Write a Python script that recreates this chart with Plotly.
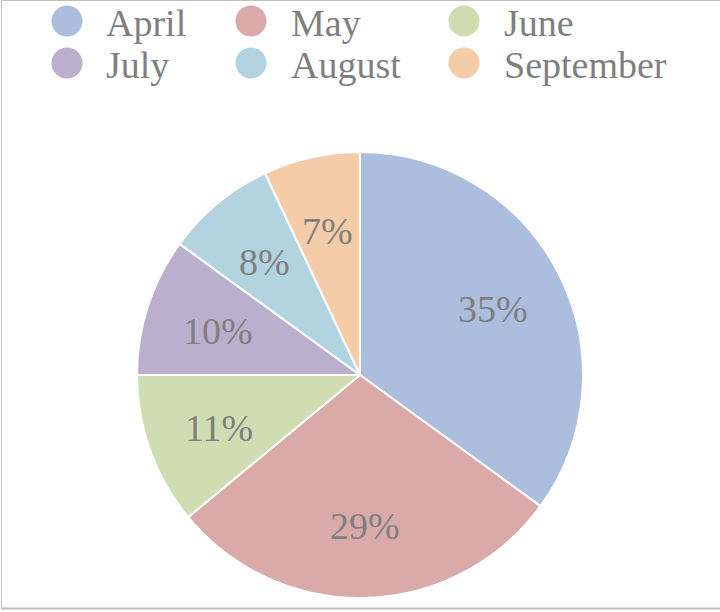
import math
import plotly.graph_objects as go

months = ["April", "May", "June", "July", "August", "September"]
shares = [35, 29, 11, 10, 8, 7]
colors = ["#ABBEDD", "#D9AAA8", "#D0DDB3", "#BAB0CE", "#B2D4E0", "#F5CCA8"]

W, H = 720, 612
FONT = "Liberation Serif"
GRAY = "#7F7F7F"
FS = 38


def px(x):
    return x / W


def py(y):
    return (H - y) / H


cx, cy, R = 360, 375, 223

fig = go.Figure(go.Pie(
    labels=months, values=shares, sort=False, direction="clockwise", rotation=0,
    marker=dict(colors=colors, line=dict(color="white", width=2)),
    textinfo="none",
    domain=dict(x=[px(cx - R), px(cx + R)], y=[py(cy + R), py(cy - R)]),
    showlegend=False, hoverinfo="label+percent",
))

shapes = []
annotations = []

# percentage labels placed at 0.67 R along each slice's mid angle
total = sum(shares)
cum = 0
for v in shares:
    mid = (cum + v / 2) / total * 2 * math.pi
    cum += v
    r = 0.67 * R
    x = cx + r * math.sin(mid)
    y = cy - r * math.cos(mid) + 2
    annotations.append(dict(text=f"{round(100 * v / total)}%", xref="paper", yref="paper",
                            x=px(x), y=py(y), xanchor="center", yanchor="middle",
                            showarrow=False, font=dict(family=FONT, size=FS, color=GRAY)))

# custom legend (3 columns x 2 rows)
col_circle = [67, 251, 464]
col_text = [104, 289, 502]
row_y = [21, 63]
for i, m in enumerate(months):
    r_, c = divmod(i, 3)
    x0 = col_circle[c]
    y0 = row_y[r_]
    rad = 15.5
    shapes.append(dict(type="circle", xref="paper", yref="paper",
                       x0=px(x0 - rad), x1=px(x0 + rad),
                       y0=py(y0 + rad), y1=py(y0 - rad),
                       fillcolor=colors[i], line=dict(width=0)))
    annotations.append(dict(text=m, xref="paper", yref="paper",
                            x=px(col_text[c]), y=py(y0 + 2),
                            xanchor="left", yanchor="middle", showarrow=False,
                            font=dict(family=FONT, size=FS, color=GRAY)))

# border
bc = "#BFBFBF"
shapes += [
    dict(type="line", xref="paper", yref="paper", x0=px(1.5), x1=1.05, y0=py(0.5), y1=py(0.5), line=dict(color=bc, width=1)),
    dict(type="line", xref="paper", yref="paper", x0=px(1.5), x1=px(1.5), y0=py(0), y1=py(609), line=dict(color=bc, width=1)),
    dict(type="line", xref="paper", yref="paper", x0=px(1.5), x1=1.05, y0=py(608.5), y1=py(608.5), line=dict(color=bc, width=2)),
]

fig.update_layout(
    width=W, height=H, margin=dict(l=0, r=0, t=0, b=0),
    paper_bgcolor="white", plot_bgcolor="white",
    shapes=shapes, annotations=annotations,
)
fig.write_html("out.html", config={"displayModeBar": False},
               post_script="document.body.style.margin='0';document.body.style.overflow='hidden';")
